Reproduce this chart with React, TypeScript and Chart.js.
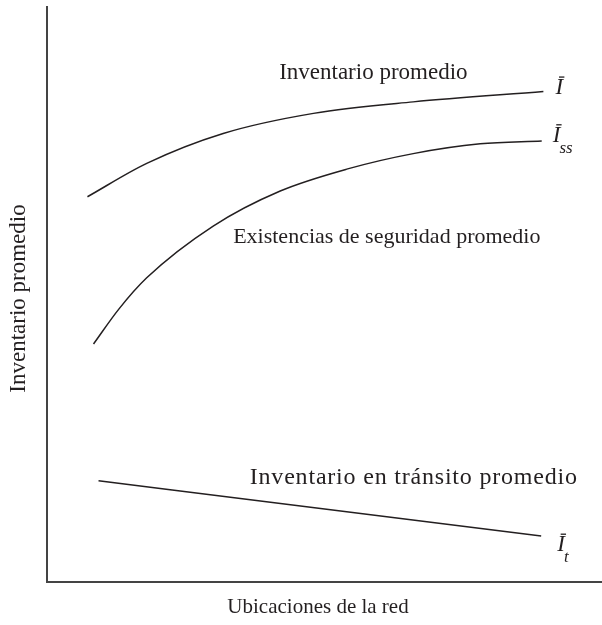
import React, { useEffect, useRef } from "react";
import { Chart, registerables } from "chart.js";
Chart.register(...registerables);

// ---- data (arbitrary units) ----
const xLabel = "Ubicaciones de la red";
const yLabel = "Inventario promedio";

const avgInvX = [7.3, 18.0, 31.8, 48.1, 66.1, 89.6];
const avgInvY = [67.0, 72.8, 78.0, 81.5, 83.5, 85.3];

const safetyX = [8.4, 13.0, 18.0, 30.0, 42.1, 54.1, 66.1, 78.2, 89.3];
const safetyY = [41.4, 47.5, 52.9, 61.9, 68.0, 71.8, 74.5, 76.2, 76.7];

const transitX = [9.3, 89.2];
const transitY = [17.6, 8.0];

const seriesNames = [
  "Inventario promedio",
  "Existencias de seguridad promedio",
  "Inventario en tránsito promedio",
];
const symbolSubs = ["", "ss", "t"];

// annotation anchors (data units)
const nameAnchorX = [41.9, 33.6, 36.6];
const nameAnchorY = [88.5, 60.0, 18.1];
const nameSizes = [23, 22, 24];
const nameLetterSp = [0, 0, 0.8];
const symAnchorX = [91.8, 91.3, 92.1];
const symAnchorY = [85.9, 77.6, 6.4];

const FONT = "'Liberation Serif', 'Times New Roman', serif";
const INK = "#231f20";

const toPts = (xs: number[], ys: number[]) => xs.map((x, i) => ({ x, y: ys[i] }));

const labelPlugin = {
  id: "labels",
  afterDatasetsDraw(chart: any) {
    const { ctx, scales, chartArea } = chart;
    const sx = scales.x, sy = scales.y;
    ctx.save();
    ctx.fillStyle = INK;
    ctx.strokeStyle = INK;
    ctx.textBaseline = "middle";
    ctx.textAlign = "left";
    for (let i = 0; i < seriesNames.length; i++) {
      ctx.font = `${nameSizes[i]}px ${FONT}`;
      (ctx as any).letterSpacing = `${nameLetterSp[i]}px`;
      ctx.fillText(seriesNames[i], sx.getPixelForValue(nameAnchorX[i]), sy.getPixelForValue(nameAnchorY[i]));
      (ctx as any).letterSpacing = "0px";
      const px = sx.getPixelForValue(symAnchorX[i]);
      const py = sy.getPixelForValue(symAnchorY[i]);
      ctx.font = `italic 23px ${FONT}`;
      ctx.fillText("I", px, py);
      const w = ctx.measureText("I").width;
      ctx.lineWidth = 1.3;
      ctx.beginPath();
      ctx.moveTo(px + w * 0.45, py - 11);
      ctx.lineTo(px + w * 1.15, py - 11);
      ctx.stroke();
      if (symbolSubs[i]) {
        ctx.font = `italic 17px ${FONT}`;
        ctx.fillText(symbolSubs[i], px + w - 1, py + (i === 1 ? 13 : 12));
      }
    }
    // axis titles
    ctx.textAlign = "center";
    ctx.font = `21px ${FONT}`;
    ctx.fillText(xLabel, (chartArea.left + chartArea.right) / 2 - 6, chartArea.bottom + 25);
    ctx.save();
    ctx.translate(19, (chartArea.top + chartArea.bottom) / 2 + 4);
    ctx.rotate(-Math.PI / 2);
    ctx.font = `23px ${FONT}`;
    ctx.fillText(yLabel, 0, 0);
    ctx.restore();
    ctx.restore();
  },
};

export default function App() {
  const ref = useRef<HTMLCanvasElement>(null);
  useEffect(() => {
    if (!ref.current) return;
    const lineDs = (label: string, xs: number[], ys: number[]) => ({
      label,
      data: toPts(xs, ys),
      showLine: true,
      borderColor: INK,
      borderWidth: 1.5,
      pointRadius: 0,
      cubicInterpolationMode: "monotone" as const,
      fill: false,
    });
    const chart = new Chart(ref.current, {
      type: "scatter",
      data: {
        datasets: [
          lineDs(seriesNames[0], avgInvX, avgInvY),
          lineDs(seriesNames[1], safetyX, safetyY),
          lineDs(seriesNames[2], transitX, transitY),
        ],
      },
      options: {
        animation: false,
        responsive: false,
        layout: { padding: { top: 7, right: 1, left: 47, bottom: 43 } },
        plugins: { legend: { display: false }, tooltip: { enabled: false } },
        scales: {
          x: {
            type: "linear",
            min: 0,
            max: 100,
            grid: { display: false, drawTicks: false },
            border: { display: true, color: "#444", width: 2 },
            ticks: { display: false },
            title: { display: false },
          },
          y: {
            type: "linear",
            min: 0,
            max: 100,
            grid: { display: false, drawTicks: false },
            border: { display: true, color: "#444", width: 2 },
            ticks: { display: false },
            title: { display: false },
          },
        },
      },
      plugins: [labelPlugin],
    });
    return () => chart.destroy();
  }, []);
  return (
    <div style={{ position: "absolute", left: 0, top: 0, width: 602, height: 625, background: "#fff" }}>
      <canvas ref={ref} width={602} height={625} style={{ display: "block" }} />
    </div>
  );
}
